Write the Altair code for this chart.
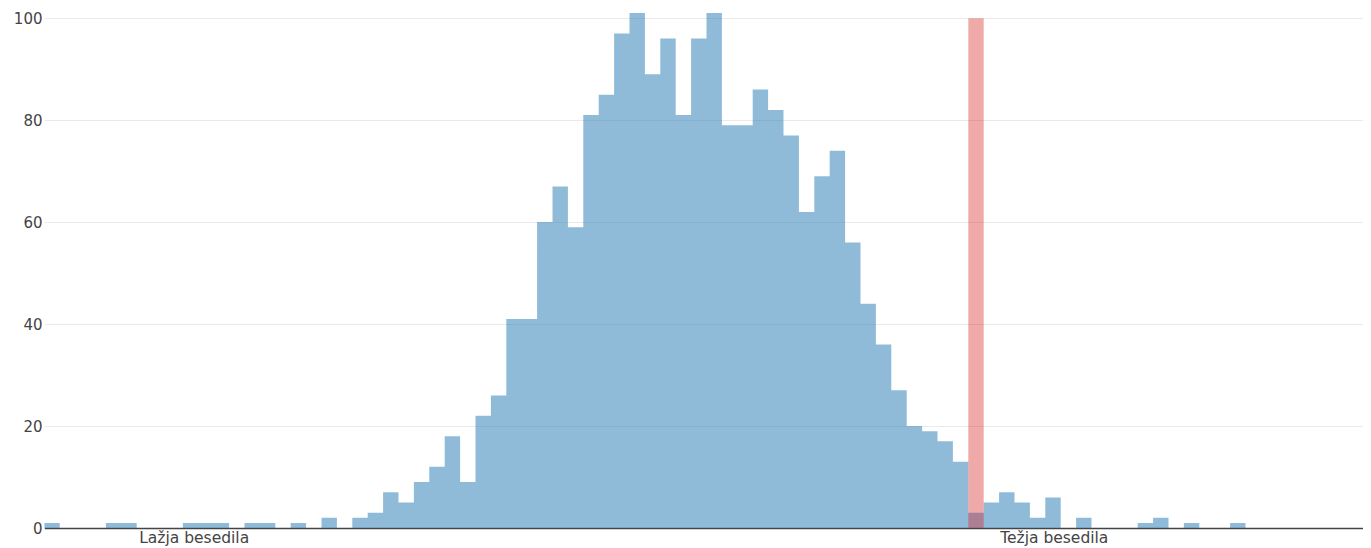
import altair as alt
import pandas as pd

# histogram counts per bin (bin index k spans [k, k+1])
counts = [1, 0, 0, 0, 1, 1, 0, 0, 0, 1,
          1, 1, 0, 1, 1, 0, 1, 0, 2, 0,
          2, 3, 7, 5, 9, 12, 18, 9, 22, 26,
          41, 41, 60, 67, 59, 81, 85, 97, 101, 89,
          96, 81, 96, 101, 79, 79, 86, 82, 77, 62,
          69, 74, 56, 44, 36, 27, 20, 19, 17, 13,
          3, 5, 7, 5, 2, 6, 0, 2, 0, 0,
          0, 1, 2, 0, 1, 0, 0, 1, 0, 0,
          0, 0, 0, 0, 0, 0, 1]
marker_bin = [60]
marker_value = [100]
label_positions = [9.7, 65.55]
label_texts = ["Lažja besedila", "Težja besedila"]
y_ticks = [0, 20, 40, 60, 80, 100]

# step outline: each bin's count held from its start to the next start
starts = list(range(len(counts))) + [len(counts)]
values = counts + [counts[-1]]
df = pd.DataFrame({"start": starts, "count": values})

mk = pd.DataFrame({"start": marker_bin, "count": marker_value})
mk["end"] = mk["start"] + 1

xscale = alt.Scale(domain=[0, 85.63], nice=False, zero=False)
yscale = alt.Scale(domain=[0, 102], nice=False)

label_expr = (f"datum.value < 30 ? '{label_texts[0]}' : '{label_texts[1]}'")

x_axis = alt.Axis(values=label_positions, labelExpr=label_expr, title=None,
                  grid=False, ticks=False, tickSize=0, labelPadding=2,
                  domainColor="#444", domainWidth=1.5, labelColor="#444",
                  labelFont="DejaVu Sans", labelFontSize=15.5, labelBaseline="top",
                  labelFlush=False, labelOverlap=False)
y_axis = alt.Axis(values=y_ticks, title=None, domain=False, ticks=False, tickSize=0,
                  labelPadding=2.3, gridColor="#eaeaea", gridWidth=1,
                  labelColor="#444", labelFont="DejaVu Sans", labelFontSize=15)

bars = alt.Chart(df).mark_area(color="#1f77b4", opacity=0.5, clip=True,
                               interpolate="step-after").encode(
    x=alt.X("start:Q", scale=xscale, axis=x_axis),
    y=alt.Y("count:Q", scale=yscale, axis=y_axis),
    y2=alt.datum(0),
)

marker = alt.Chart(mk).mark_rect(color="#d62728", opacity=0.4).encode(
    x=alt.X("start:Q", scale=xscale),
    x2="end:Q",
    y=alt.Y("count:Q", scale=yscale),
    y2=alt.datum(0),
)

chart = alt.layer(bars, marker).properties(
    width=1318.7, height=520,
    background="white",
    autosize=alt.AutoSizeParams(type="none"),
    padding={"left": 36.3, "top": 0, "right": 0, "bottom": 20},
).configure_view(stroke=None)

chart.save("out.html", embed_options={"renderer": "svg", "actions": False})
